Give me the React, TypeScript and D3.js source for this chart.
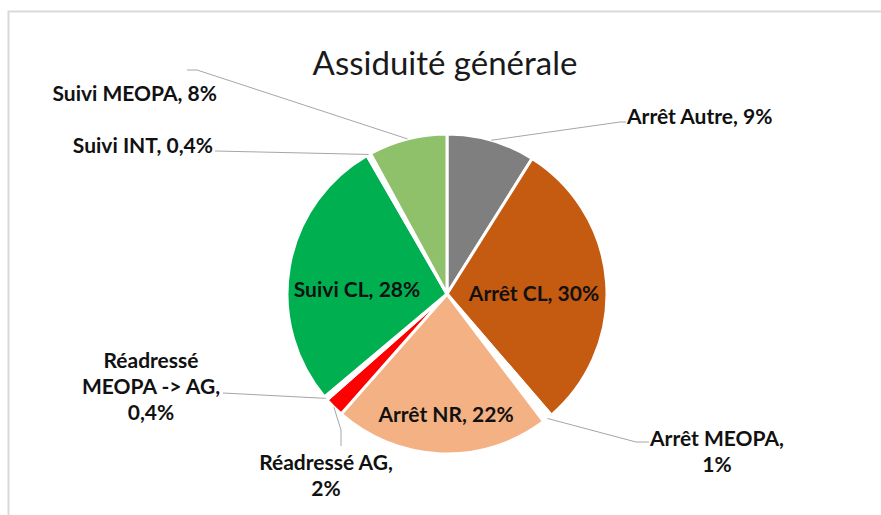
import * as d3 from "d3";
import React from "react";

const categories = [
  "Arrêt Autre",
  "Arrêt CL",
  "Arrêt MEOPA",
  "Arrêt NR",
  "Réadressé AG",
  "Réadressé MEOPA -> AG",
  "Suivi CL",
  "Suivi INT",
  "Suivi MEOPA",
];
const values = [9, 30, 1, 22, 2, 0.4, 28, 0.4, 8];
const valueLabels = ["9%", "30%", "1%", "22%", "2%", "0,4%", "28%", "0,4%", "8%"];
const colors = ["#7f7f7f", "#c55a11", "#ffffff", "#f4b183", "#ff0000", "#ffffff", "#00b050", "#ffffff", "#8fc16b"];

// label layout: text lines, anchor point of text block, elbow points of leader line (null = inside)
const labelLayout: { lines: string[]; x: number; y: number; anchor: string; leader: number[][] | null }[] = [
  { lines: ["Arrêt Autre, 9%"], x: 627, y: 115, anchor: "start", leader: [[620, 122], [626, 122]] },
  { lines: ["Arrêt CL, 30%"], x: 534, y: 292, anchor: "middle", leader: null },
  { lines: ["Arrêt MEOPA,", "1%"], x: 717, y: 437, anchor: "middle", leader: [[636, 442], [649, 442]] },
  { lines: ["Arrêt NR, 22%"], x: 446, y: 413, anchor: "middle", leader: null },
  { lines: ["Réadressé AG,", "2%"], x: 326, y: 461, anchor: "middle", leader: [[341, 430], [341, 446]] },
  { lines: ["Réadressé", "MEOPA -> AG,", "0,4%"], x: 151, y: 359, anchor: "middle", leader: [[223, 393]] },
  { lines: ["Suivi CL, 28%"], x: 357, y: 288, anchor: "middle", leader: null },
  { lines: ["Suivi INT, 0,4%"], x: 213, y: 144, anchor: "end", leader: [[215, 151]] },
  { lines: ["Suivi MEOPA, 8%"], x: 217, y: 92, anchor: "end", leader: [[197, 70], [187, 70]] },
];

const width = 881;
const height = 515;
const cx = 447;
const cy = 294;
const radius = 160;
const font = "Lato, 'Open Sans', sans-serif";

export default function App() {
  const pie = d3
    .pie<number>()
    .sort(null)
    .value((d) => d)
    .startAngle(0)
    .endAngle(2 * Math.PI);
  const arcs = pie(values);
  const arc = d3.arc<d3.PieArcDatum<number>>().innerRadius(0).outerRadius(radius);
  const outerPoint = (a: d3.PieArcDatum<number>) => {
    const m = (a.startAngle + a.endAngle) / 2;
    return [cx + Math.sin(m) * radius, cy - Math.cos(m) * radius];
  };
  const line = d3.line();

  return (
    <svg width={width} height={height} style={{ position: "absolute", left: 0, top: 0, background: "#fff" }}>
      <rect x={8.5} y={11.5} width={width + 20} height={height + 20} fill="#fff" stroke="#d9d9d9" strokeWidth={2} />
      <text x={445} y={62} textAnchor="middle" dominantBaseline="central" fontFamily={font} fontSize={33} fill="#1a1a1a">
        Assiduité générale
      </text>
      <g transform={`translate(${cx},${cy})`}>
        {arcs.map((a, i) => (
          <path key={categories[i]} d={arc(a) || ""} fill={colors[i]} stroke="#fff" strokeWidth={3} strokeLinejoin="round" />
        ))}
      </g>
      {arcs.map((a, i) => {
        const lay = labelLayout[i];
        if (!lay.leader) return null;
        const pts = [outerPoint(a), ...lay.leader] as [number, number][];
        return <path key={"l" + i} d={line(pts) || ""} fill="none" stroke="#a6a6a6" strokeWidth={1} />;
      })}
      {labelLayout.map((lay, i) => (
        <text
          key={"t" + i}
          x={lay.x}
          y={lay.y}
          textAnchor={lay.anchor}
          fontFamily={font}
          fontWeight="bold"
          fontSize={21}
          fill="#111"
        >
          {lay.lines.map((s, j) => (
            <tspan key={j} x={lay.x} y={lay.y + j * 26} dominantBaseline="central">
              {s}
            </tspan>
          ))}
        </text>
      ))}
    </svg>
  );
}
